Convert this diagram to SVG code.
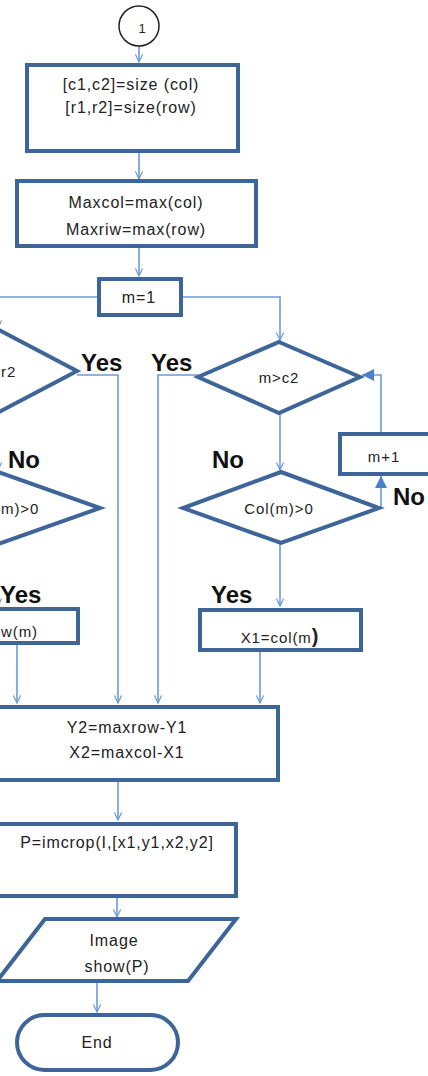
<svg xmlns="http://www.w3.org/2000/svg" width="428" height="1076" viewBox="0 0 428 1076">
<style>
.box{fill:#fff;stroke:#3e6598;stroke-width:4}
.c{fill:none;stroke:#6b9bd6;stroke-width:1.6}
.t{font-family:"Liberation Sans",Arial,sans-serif;font-size:16px;fill:#222;text-anchor:middle;letter-spacing:0.9px}
.s{font-size:15px}
.lft{text-anchor:start}
.lb{font-family:"Liberation Sans",Arial,sans-serif;font-size:24px;font-weight:bold;fill:#111}
</style>
<defs>
<marker id="a" viewBox="0 0 10 10" refX="9.5" refY="5" markerWidth="9" markerHeight="8" orient="auto" markerUnits="userSpaceOnUse">
<path d="M0,0.5 L9.5,5 L0,9.5" fill="none" stroke="#6b9bd6" stroke-width="1.5"/>
</marker>
<marker id="f" viewBox="0 0 10 10" refX="10" refY="5" markerWidth="12" markerHeight="12" orient="auto" markerUnits="userSpaceOnUse">
<path d="M0,0 L10,5 L0,10 z" fill="#4a80c8"/>
</marker>
</defs>
<rect width="428" height="1076" fill="#fff"/>
<g id="connectors">
<path class="c" marker-end="url(#a)" d="M139,46 V62"/>
<path class="c" marker-end="url(#a)" d="M139,153 V179"/>
<path class="c" marker-end="url(#a)" d="M139,248 V276"/>
<path class="c" marker-end="url(#a)" d="M97,297 H-2 V328"/>
<path class="c" marker-end="url(#a)" d="M183,297 H280 V340"/>
<path class="c" marker-end="url(#a)" d="M77,375 H118 V703"/>
<path class="c" marker-end="url(#a)" d="M198,375 H158 V703"/>
<path class="c" marker-end="url(#a)" d="M280,413 V470"/>
<path class="c" marker-end="url(#a)" d="M280,543 V606"/>
<path class="c" marker-end="url(#a)" d="M260,652 V703"/>
<path class="c" marker-end="url(#a)" d="M17,645 V703"/>
<path class="c" marker-end="url(#a)" d="M-2,413 V470"/>
<path class="c" marker-end="url(#a)" d="M-2,544 V606"/>
<path class="c" marker-end="url(#f)" d="M381,432 V375 H362"/>
<path class="c" marker-end="url(#f)" d="M381,507 V476"/>
<path class="c" marker-end="url(#a)" d="M118,782 V820"/>
<path class="c" marker-end="url(#a)" d="M117,898 V917"/>
<path class="c" marker-end="url(#a)" d="M97,983 V1012"/>
</g>
<g id="start">
<circle cx="139" cy="26" r="20" fill="#fff" stroke="#222" stroke-width="1.5"/>
<text class="t" x="142" y="33" style="font-size:13px;letter-spacing:0">1</text>
</g>
<g id="size">
<rect class="box" x="27" y="65" width="211" height="86"/>
<text class="t" x="131" y="90">[c1,c2]=size (col)</text>
<text class="t" x="131" y="113">[r1,r2]=size(row)</text>
</g>
<g id="max">
<rect class="box" x="17" y="181" width="239" height="65"/>
<text class="t" x="136" y="208">Maxcol=max(col)</text>
<text class="t" x="136" y="235">Maxriw=max(row)</text>
</g>
<g id="m1">
<rect class="box" x="99" y="279" width="82" height="36"/>
<text class="t" x="139" y="303">m=1</text>
</g>
<g id="dec-r2">
<polygon class="box" points="-3,329 77,371 -3,413 -83,371"/>
<text class="t s lft" x="1" y="377">r2</text>
</g>
<g id="dec-c2">
<polygon class="box" points="279,342 360,377 279,413 198,377"/>
<text class="t s" x="279" y="383">m&gt;c2</text>
</g>
<g id="dec-row">
<polygon class="box" points="-2,472 100,508 -2,544 -104,508"/>
<text class="t s lft" x="1" y="514">m)&gt;0</text>
</g>
<g id="dec-col">
<polygon class="box" points="281,472 379,508 281,543 183,508"/>
<text class="t s" x="279" y="514">Col(m)&gt;0</text>
</g>
<g id="inc">
<rect class="box" x="340" y="434" width="100" height="40"/>
<text class="t s" x="384" y="462">m+1</text>
</g>
<g id="y1">
<rect class="box" x="-90" y="609" width="168" height="34"/>
<text class="t s lft" x="1" y="637">w(m)</text>
</g>
<g id="x1">
<rect class="box" x="200" y="610" width="161" height="40"/>
<text class="t s" x="280" y="643">X1=col(m<tspan style="font-size:20px;font-weight:bold">)</tspan></text>
</g>
<g id="y2">
<rect class="box" x="-10" y="707" width="288" height="73"/>
<text class="t" x="127" y="733">Y2=maxrow-Y1</text>
<text class="t" x="127" y="758">X2=maxcol-X1</text>
</g>
<g id="crop">
<rect class="box" x="-10" y="824" width="246" height="72"/>
<text class="t" x="117" y="848">P=imcrop(I,[x1,y1,x2,y2]</text>
</g>
<g id="show">
<polygon class="box" points="45,919 236,919 188,981 -3,981"/>
<text class="t" x="114" y="946">Image</text>
<text class="t" x="117" y="972">show(P)</text>
</g>
<g id="end">
<rect class="box" x="17" y="1015" width="161" height="55" rx="27.5"/>
<text class="t" x="97" y="1048">End</text>
</g>
<g id="labels">
<text class="lb" x="81" y="371">Yes</text>
<text class="lb" x="151" y="371">Yes</text>
<text class="lb" x="8" y="468">No</text>
<text class="lb" x="212" y="468">No</text>
<text class="lb" x="393" y="505">No</text>
<text class="lb" x="0" y="603">Yes</text>
<text class="lb" x="211" y="603">Yes</text>
</g>
</svg>
